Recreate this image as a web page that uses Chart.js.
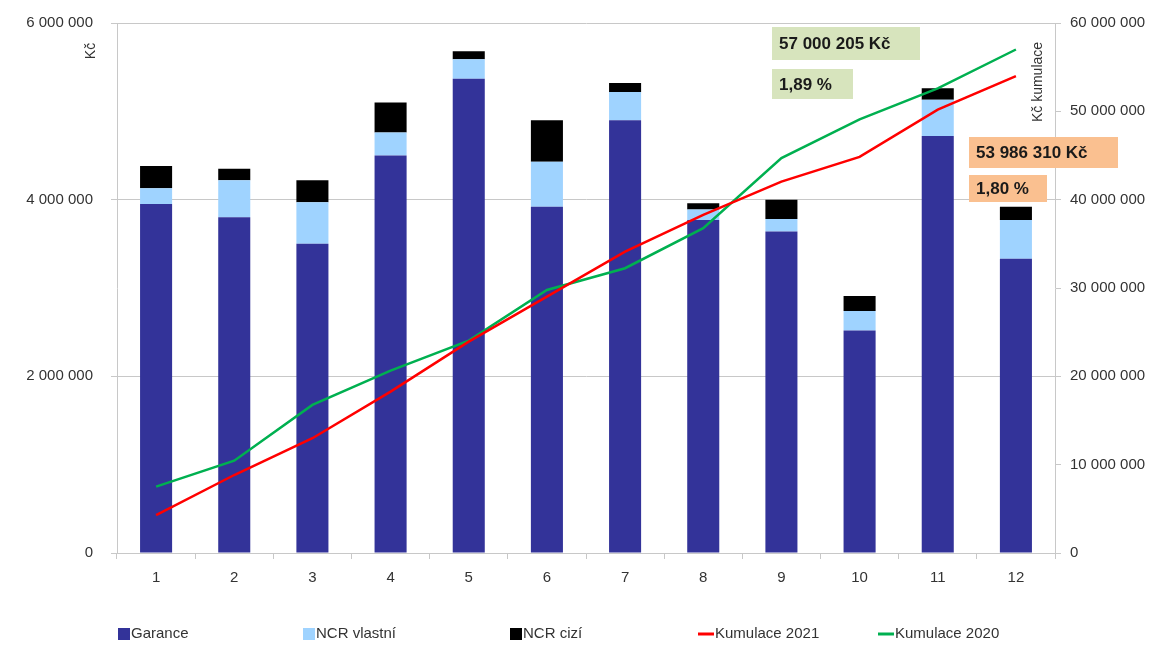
<!DOCTYPE html>
<html lang="cs">
<head>
<meta charset="utf-8">
<script src="https://cdn.jsdelivr.net/npm/chart.js@4"></script>
<style>
  html, body { margin: 0; padding: 0; background: #ffffff; }
  #wrap { width: 1162px; height: 646px; position: relative; }
</style>
</head>
<body>
<div id="wrap"><canvas id="c" width="1162" height="646"></canvas></div>
<script>
// Měsíce
const months = ['1', '2', '3', '4', '5', '6', '7', '8', '9', '10', '11', '12'];

// Měsíční objemy (Kč)
const garance    = [3950000, 3800000, 3500000, 4500000, 5370000, 3920000, 4900000, 3770000, 3640000, 2520000, 4720000, 3330000];
const ncrVlastni = [ 180000,  420000,  470000,  260000,  220000,  510000,  320000,  120000,  140000,  220000,  410000,  440000];
const ncrCizi    = [ 250000,  130000,  250000,  340000,   90000,  470000,  100000,   70000,  220000,  170000,  130000,  150000];

// Kumulace (Kč)
const kumulace2021 = [4300000, 8830000, 12990000, 18270000, 23930000, 29030000, 34120000, 38280000, 42050000, 44850000, 50200000, 53986310];
const kumulace2020 = [7510000, 10450000, 16760000, 20650000, 24040000, 29780000, 32240000, 36770000, 44700000, 49100000, 52600000, 57000205];

// Podíly
const podil2020 = '1,89 %';
const podil2021 = '1,80 %';

// Osy
const leftTicks  = [0, 2000000, 4000000, 6000000];
const rightTicks = [0, 10000000, 20000000, 30000000, 40000000, 50000000, 60000000];

const FONT = '"Liberation Sans", Arial, sans-serif';
const GRID = '#c8c8c8';
const TXT = '#333333';

function fmt(n) {
  return String(Math.round(n)).replace(/\B(?=(\d{3})+(?!\d))/g, ' ');
}

// Popisky os, rámečky s hodnotami a legenda
const extras = {
  id: 'extras',
  afterDraw(chart) {
    const ctx = chart.ctx;
    const a = chart.chartArea;
    ctx.save();

    // názvy os
    ctx.fillStyle = TXT;
    ctx.font = '14px ' + FONT;
    ctx.textAlign = 'center';
    ctx.textBaseline = 'middle';
    ctx.save();
    ctx.translate(a.left - 26, a.top + 28);
    ctx.rotate(-Math.PI / 2);
    ctx.fillText('Kč', 0, 0);
    ctx.restore();
    ctx.save();
    ctx.translate(a.right - 17, a.top + 59);
    ctx.rotate(-Math.PI / 2);
    ctx.fillText('Kč kumulace', 0, 0);
    ctx.restore();

    // rámečky
    const boxes = [
      { x: a.left + 655, y: a.top + 4,   w: 148, h: 33, fill: '#d7e4bd', text: fmt(kumulace2020[kumulace2020.length - 1]) + ' Kč' },
      { x: a.left + 655, y: a.top + 46,  w: 81,  h: 30, fill: '#d7e4bd', text: podil2020 },
      { x: a.left + 852, y: a.top + 114, w: 149, h: 31, fill: '#fac090', text: fmt(kumulace2021[kumulace2021.length - 1]) + ' Kč' },
      { x: a.left + 852, y: a.top + 152, w: 78,  h: 27, fill: '#fac090', text: podil2021 }
    ];
    ctx.font = 'bold 17px ' + FONT;
    ctx.textAlign = 'left';
    boxes.forEach(b => {
      ctx.fillStyle = b.fill;
      ctx.fillRect(b.x, b.y, b.w, b.h);
      ctx.fillStyle = '#1a1a1a';
      ctx.fillText(b.text, b.x + 7, b.y + b.h / 2 + 1);
    });

    // legenda (pevné sloty)
    ctx.font = '15px ' + FONT;
    ctx.textBaseline = 'middle';
    const ly = 634;
    const slots = [118, 303, 510, 698, 878];
    chart.data.datasets.forEach((ds, i) => {
      const lx = slots[i];
      let mw;
      if (ds.type === 'line') {
        mw = 16;
        ctx.strokeStyle = ds.borderColor;
        ctx.lineWidth = 3;
        ctx.beginPath();
        ctx.moveTo(lx, ly);
        ctx.lineTo(lx + mw, ly);
        ctx.stroke();
      } else {
        mw = 12;
        ctx.fillStyle = ds.backgroundColor;
        ctx.fillRect(lx, ly - 6, mw, 12);
      }
      ctx.fillStyle = TXT;
      ctx.fillText(ds.label, lx + mw + 1, ly);
    });
    ctx.restore();
  }
};

new Chart(document.getElementById('c'), {
  type: 'bar',
  data: {
    labels: months,
    datasets: [
      { label: 'Garance', data: garance, backgroundColor: '#333399', yAxisID: 'y', order: 1 },
      { label: 'NCR vlastní', data: ncrVlastni, backgroundColor: '#9fd3ff', yAxisID: 'y', order: 1 },
      { label: 'NCR cizí', data: ncrCizi, backgroundColor: '#000000', yAxisID: 'y', order: 1 },
      { type: 'line', label: 'Kumulace 2021', data: kumulace2021, borderColor: '#ff0000', backgroundColor: '#ff0000',
        borderWidth: 2.5, pointRadius: 0, tension: 0, yAxisID: 'y1', order: 0 },
      { type: 'line', label: 'Kumulace 2020', data: kumulace2020, borderColor: '#00b050', backgroundColor: '#00b050',
        borderWidth: 2.5, pointRadius: 0, tension: 0, yAxisID: 'y1', order: 0 }
    ]
  },
  options: {
    responsive: false,
    animation: false,
    layout: { padding: { top: 23, left: 0, right: 0, bottom: 0 } },
    datasets: { bar: { categoryPercentage: 1, barPercentage: 0.41 } },
    plugins: { legend: { display: false }, tooltip: { enabled: false } },
    scales: {
      x: {
        stacked: true,
        offset: true,
        grid: { display: true, offset: true, drawOnChartArea: false, color: GRID, tickLength: 6 },
        border: { color: GRID },
        ticks: { color: TXT, font: { family: FONT, size: 15 }, padding: 10, maxRotation: 0 },
        afterFit(s) { s.height = 93; }
      },
      y: {
        stacked: true,
        position: 'left',
        min: 0, max: 6000000,
        afterBuildTicks(s) { s.ticks = leftTicks.map(v => ({ value: v })); },
        grid: { color: GRID, tickLength: 6 },
        border: { color: GRID },
        ticks: { color: TXT, font: { family: FONT, size: 15 }, padding: 18, callback: v => fmt(v) },
        afterFit(s) { s.width = 117; s.paddingTop = 0; s.paddingBottom = 0; }
      },
      y1: {
        position: 'right',
        min: 0, max: 60000000,
        afterBuildTicks(s) { s.ticks = rightTicks.map(v => ({ value: v })); },
        grid: { drawOnChartArea: false, color: GRID, tickLength: 6 },
        border: { color: GRID },
        ticks: { color: TXT, font: { family: FONT, size: 15 }, padding: 9, callback: v => fmt(v) },
        afterFit(s) { s.width = 107; s.paddingTop = 0; s.paddingBottom = 0; }
      }
    }
  },
  plugins: [extras]
});
</script>
</body>
</html>
